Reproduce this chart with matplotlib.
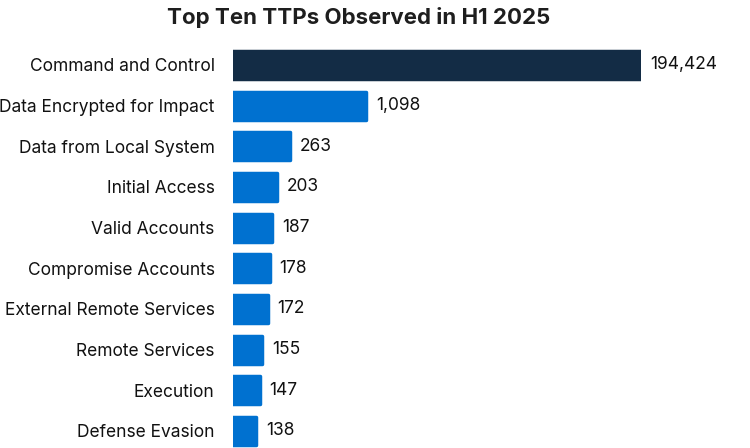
import matplotlib.pyplot as plt
from matplotlib.transforms import offset_copy

plt.rcParams['font.family'] = ['Inter', 'DejaVu Sans']

ttps = ["Command and Control", "Data Encrypted for Impact", "Data from Local System",
        "Initial Access", "Valid Accounts", "Compromise Accounts",
        "External Remote Services", "Remote Services", "Execution", "Defense Evasion"]
counts = [194424, 1098, 263, 203, 187, 178, 172, 155, 147, 138]
bar_colors = ["#132c45"] + ["#0071d0"] * 9

fig = plt.figure(figsize=(7.5, 4.48), dpi=100)
ax = fig.add_axes([0.3113, 0.0, 0.5433, 0.8996])

ypos = list(range(len(ttps)))
ax.barh(ypos, counts, height=0.69, color=bar_colors, edgecolor=bar_colors,
        linewidth=2.5, joinstyle='round')
ax.set_xscale('log')
ax.set_xlim(90, 194424)
ax.set_ylim(9.418, -0.49)

ax.set_yticks(ypos)
ax.set_yticklabels(ttps, fontsize=12.5, color="#111111")
ax.tick_params(axis='y', length=0, pad=13.5)
ax.set_xticks([])
ax.minorticks_off()
for s in ax.spines.values():
    s.set_visible(False)

trans = offset_copy(ax.transData, fig=fig, x=7, y=0, units='points')
for y, v in zip(ypos, counts):
    ax.text(v, y, f"{v:,}", transform=trans, va='center', ha='left',
            fontsize=12.5, color="#111111", clip_on=False)

fig.text(0.478, 0.962, "Top Ten TTPs Observed in H1 2025", ha='center', va='center',
         fontsize=16, fontweight='bold', color="#1e1e1e")

fig.savefig("out.png", dpi=100)
